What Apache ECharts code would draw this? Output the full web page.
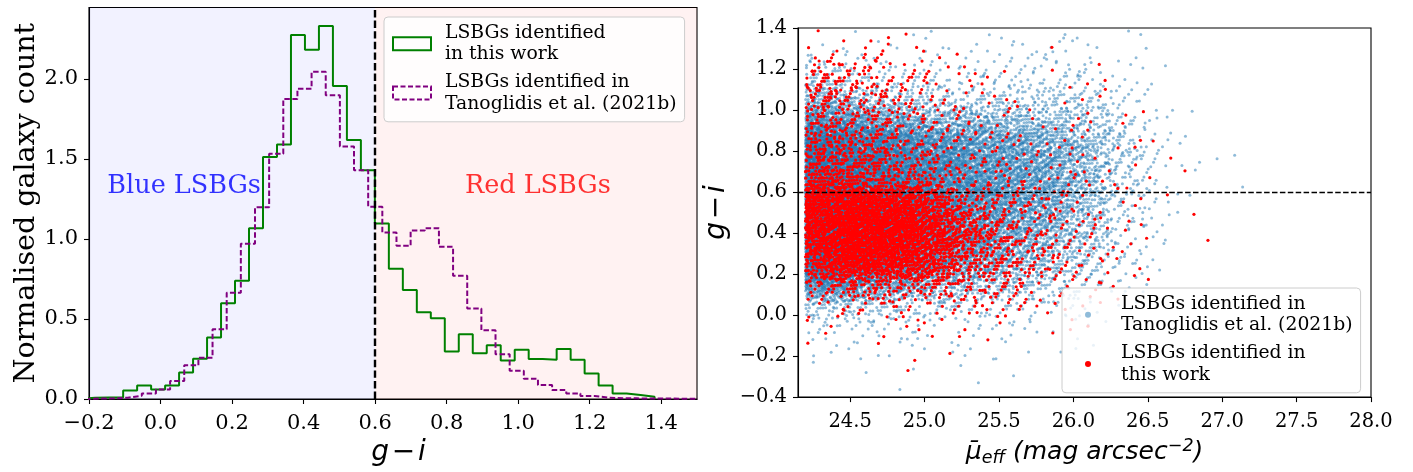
<!DOCTYPE html>
<html><head><meta charset="utf-8">
<script src="https://cdn.jsdelivr.net/npm/echarts@6/dist/echarts.min.js"></script>
<style>html,body{margin:0;padding:0;background:#fff}#c{width:1413px;height:472px}</style>
</head><body><div id="c"></div><script>
// ---------------- Left panel: normalised g - i histograms ----------------
const histXTicks = [-0.2, 0.0, 0.2, 0.4, 0.6, 0.8, 1.0, 1.2, 1.4];
const histYTicks = [0.0, 0.5, 1.0, 1.5, 2.0];
const colourCut = 0.6;
// "LSBGs identified in this work" (green, solid step)
const thisWorkBinStart = -0.2218;
const thisWorkBinWidth = 0.0391;
const thisWorkHeights = [0.008,0.010,0.010,0.053,0.084,0.059,0.084,0.165,0.251,0.384,0.598,0.739,1.066,1.511,1.589,2.274,2.181,2.330,1.954,1.618,1.428,1.096,0.813,0.681,0.541,0.505,0.297,0.404,0.285,0.336,0.241,0.307,0.250,0.245,0.313,0.245,0.159,0.084,0.035,0.025,0.014];
// "LSBGs identified in Tanoglidis et al. (2021b)" (purple, dashed step)
const tanoBinStart = -0.2106;
const tanoBinWidth = 0.03956;
const tanoHeights = [0.003,0.004,0.008,0.020,0.035,0.059,0.113,0.210,0.258,0.435,0.664,0.970,1.197,1.531,1.873,1.938,2.043,1.897,1.577,1.428,1.201,1.040,0.957,1.053,1.067,0.951,0.770,0.565,0.429,0.280,0.177,0.126,0.087,0.056,0.035,0.019,0.008,0.005,0.004,0.003,0.003,0.002,0.002,0.001];
const regionLabels = ['Blue LSBGs', 'Red LSBGs'];
const regionLabelPos = [[0.066, 1.33], [1.055, 1.33]];

// ---------------- Right panel: g - i vs mean effective surface brightness ----------------
const muTicks = [24.5, 25.0, 25.5, 26.0, 26.5, 27.0, 27.5, 28.0];
const giTicks = [-0.4, -0.2, 0.0, 0.2, 0.4, 0.6, 0.8, 1.0, 1.2, 1.4];
const muSampleCut = 24.2;   // no galaxy brighter than this in either sample
// The clouds are far too dense to read point by point; what is read from the picture
// is the number of points in each 0.2 mag x 0.1 mag cell (columns = mu cells, rows = g-i cells).
const muColLeft = [24.2,24.4,24.6,24.8,25.0,25.2,25.4,25.6,25.8,26.0,26.2,26.4,26.6,26.8,27.0];
const muCellWidth = 0.2;
const giRowBottom = [1.3,1.2,1.1,1.0,0.9,0.8,0.7,0.6,0.5,0.4,0.3,0.2,0.1,0.0,-0.1,-0.2,-0.3,-0.4];
const giCellHeight = 0.1;
const tanoCellCounts = [
 [1,2,2,2,1,2,3,3,4,4,2,1,0,0,0],
 [8,5,4,4,4,5,5,6,6,6,3,1,0,0,0],
 [40,25,18,13,11,11,11,12,12,10,6,2,0,0,0],
 [90,68,52,40,32,28,28,30,28,22,12,4,1,0,0],
 [220,180,150,120,95,85,75,72,62,44,20,6,1,0,0],
 [400,350,300,250,205,175,150,130,110,68,30,9,2,1,0],
 [430,390,340,290,245,210,180,150,120,72,34,10,2,1,1],
 [440,400,350,300,255,215,185,155,120,72,32,10,2,0,1],
 [440,410,360,310,255,210,180,145,110,64,27,8,2,0,0],
 [440,410,360,310,250,200,160,125,92,54,21,6,1,0,0],
 [430,400,350,290,230,175,135,100,70,40,16,5,1,0,0],
 [400,355,300,235,180,140,105,75,50,28,11,4,1,0,0],
 [230,195,150,115,90,70,55,40,27,16,7,2,0,0,0],
 [45,38,32,27,22,18,15,12,9,6,3,1,0,0,0],
 [11,10,9,8,7,6,5,4,3,2,1,0,0,0,0],
 [3,3,3,3,3,2,2,2,1,1,0,0,0,0,0],
 [1,1,2,1,1,1,1,1,1,0,0,0,0,0,0],
 [0,0,0,1,0,0,0,0,0,0,0,0,0,0,0]
];
const thisWorkCellCounts = [
 [1,2,2,1,1,1,0,0,0,0,0,0,0,0,0],
 [9,7,6,3,2,1,1,1,0,1,0,0,0,0,0],
 [24,22,15,9,6,3,2,1,1,1,1,0,0,0,0],
 [28,24,18,12,8,5,3,2,2,2,1,0,0,0,0],
 [30,26,19,14,9,7,5,3,2,2,1,1,0,0,0],
 [40,34,26,18,12,8,6,5,4,3,2,1,0,0,0],
 [52,46,36,24,15,10,8,6,5,4,2,1,1,0,0],
 [85,75,58,40,24,15,10,8,6,4,3,1,1,1,0],
 [150,165,150,125,75,36,20,13,8,5,3,1,0,0,0],
 [150,185,180,160,100,50,28,17,11,6,3,1,1,0,0],
 [125,180,180,160,105,58,32,20,12,6,3,1,0,0,1],
 [90,150,145,125,80,50,30,18,11,6,3,1,0,0,0],
 [25,35,38,35,30,22,15,10,7,4,2,1,0,0,0],
 [6,7,8,8,9,8,7,6,4,2,1,0,0,0,0],
 [2,2,3,3,3,3,2,2,1,1,0,0,0,0,0],
 [1,0,0,1,1,1,0,0,0,0,0,0,0,0,0],
 [0,0,0,0,0,0,0,0,0,0,0,0,0,0,0],
 [0,0,1,0,0,0,0,0,0,0,0,0,0,0,0]
];
const legendText = {
  histThisWork: 'LSBGs identified\nin this work',
  histTano: 'LSBGs identified in\nTanoglidis et al. (2021b)',
  scatTano: 'LSBGs identified in\nTanoglidis et al. (2021b)',
  scatThisWork: 'LSBGs identified in\nthis work'
};

// ---------------- builders ----------------
function stepOutline(start, width, heights) {
  const pts = [[start, 0]];
  heights.forEach((h, i) => pts.push([start + i * width, h]));
  const end = start + heights.length * width;
  pts.push([end, heights[heights.length - 1]]);
  pts.push([end, 0]);
  return pts;
}
// Spread each cell's count over the cell with a tent profile reaching into the neighbouring
// cells (so the read densities blend smoothly), in a fixed low-discrepancy order: no randomness.
function spreadCells(counts, offset) {
  const a = [0.8566748838545029, 0.7338918566271259, 0.6287067210378086, 0.5385972572236101];
  const fr = x => x - Math.floor(x);
  const pts = []; let k = offset;
  for (let r = 0; r < giRowBottom.length; r++) {
    for (let c = 0; c < muColLeft.length; c++) {
      for (let j = 0; j < counts[r][c]; j++) {
        k++;
        const u = fr(0.5 + a[0] * k) + fr(0.5 + a[1] * k) - 0.5;
        const v = fr(0.5 + a[2] * k) + fr(0.5 + a[3] * k) - 0.5;
        let x = muColLeft[c] + u * muCellWidth;
        if (x < muSampleCut) x = 2 * muSampleCut - x;
        pts.push([x, giRowBottom[r] + v * giCellHeight]);
      }
    }
  }
  return pts;
}
const fmt = v => (v < -1e-9 ? '\u2212' : '') + Math.abs(v).toFixed(1);
const SERIF = 'DejaVu Serif';
function axisCommon(ticks, fs, margin) {
  return {
    axisLine: { show: true, onZero: false, lineStyle: { color: '#000', width: 1.1 } },
    axisTick: { show: true, customValues: ticks, length: 5, lineStyle: { color: '#000', width: 1.1 } },
    axisLabel: { customValues: ticks, formatter: fmt, fontFamily: SERIF, fontSize: fs, color: '#000', margin: margin },
    splitLine: { show: false }
  };
}
const legendBase = {
  orient: 'vertical', itemGap: 6,
  backgroundColor: 'rgba(255,255,255,0.8)', borderColor: '#cccccc', borderWidth: 1, borderRadius: 4,
  selectedMode: false, formatter: n => legendText[n]
};
const legendTextStyle = { fontFamily: SERIF, fontSize: 18.8, color: '#000', lineHeight: 21.7 };
const GI = 'g\u200a\u2212\u200ai';

const chart = echarts.init(document.getElementById('c'), null, { renderer: 'canvas' });
chart.setOption({
  animation: false,
  grid: [
    { left: 89, top: 7.5, width: 608, height: 395, show: true, borderColor: '#000', borderWidth: 1.1, backgroundColor: 'transparent' },
    { left: 798, top: 28, width: 573, height: 372, show: true, borderColor: '#000', borderWidth: 1.1, backgroundColor: 'transparent' }
  ],
  xAxis: [
    Object.assign({ gridIndex: 0, type: 'value', min: -0.2, max: 1.5,
      name: GI, nameLocation: 'middle', nameGap: 40,
      nameTextStyle: { fontFamily: 'DejaVu Sans', fontStyle: 'italic', fontSize: 28, color: '#000', padding: [0, 0, 0, 11] } },
      axisCommon(histXTicks, 21, 14)),
    Object.assign({ gridIndex: 1, type: 'value', min: 24.15, max: 28.0,
      name: '{m|\u03bc\u0304}{sub|eff}{m| (mag arcsec}{sup|\u22122}{m|)}', nameLocation: 'middle', nameGap: 39,
      nameTextStyle: { fontFamily: 'DejaVu Sans', fontStyle: 'italic', fontSize: 25, color: '#000',
        rich: {
          m: { fontFamily: 'DejaVu Sans', fontStyle: 'italic', fontSize: 25, lineHeight: 30, color: '#000' },
          sub: { fontFamily: 'DejaVu Sans', fontStyle: 'italic', fontSize: 17.5, lineHeight: 17, verticalAlign: 'bottom', color: '#000' },
          sup: { fontFamily: 'DejaVu Sans', fontSize: 17.5, lineHeight: 17, verticalAlign: 'top', color: '#000' }
        } } }, axisCommon(muTicks, 19.5, 15))
  ],
  yAxis: [
    Object.assign({ gridIndex: 0, type: 'value', min: 0, max: 2.445,
      name: 'Normalised galaxy count', nameLocation: 'middle', nameGap: 47, nameRotate: 90,
      nameTextStyle: { fontFamily: SERIF, fontSize: 28.5, color: '#000' } }, axisCommon(histYTicks, 21, 11)),
    Object.assign({ gridIndex: 1, type: 'value', min: -0.4, max: 1.4,
      name: GI, nameLocation: 'middle', nameGap: 67, nameRotate: 90,
      nameTextStyle: { fontFamily: 'DejaVu Sans', fontStyle: 'italic', fontSize: 28, color: '#000' } },
      axisCommon(giTicks, 19.5, 11))
  ],
  legend: [
    Object.assign({}, legendBase, { left: 384, top: 17, icon: 'rect', itemWidth: 38, itemHeight: 13,
      padding: [5, 8, 7, 8], textStyle: Object.assign({ padding: [0, 0, 0, 9] }, legendTextStyle),
      data: [
        { name: 'histThisWork', itemStyle: { color: 'transparent', borderColor: '#008000', borderWidth: 2 } },
        { name: 'histTano', itemStyle: { color: 'transparent', borderColor: '#800080', borderWidth: 2, borderType: [5, 2.5] } }
      ] }),
    Object.assign({}, legendBase, { left: 1062, top: 288, icon: 'circle', itemWidth: 6, itemHeight: 6,
      padding: [5, 8, 7, 23], textStyle: Object.assign({ padding: [0, 0, 0, 25] }, legendTextStyle),
      data: [ { name: 'scatTano' }, { name: 'scatThisWork' } ] })
  ],
  series: [
    { type: 'line', name: 'shade', xAxisIndex: 0, yAxisIndex: 0, data: [], silent: true, z: 0,
      markArea: { silent: true, data: [
        [{ xAxis: -0.2, itemStyle: { color: 'rgba(0,0,255,0.05)' } }, { xAxis: colourCut }],
        [{ xAxis: colourCut, itemStyle: { color: 'rgba(255,0,0,0.05)' } }, { xAxis: 1.5 }]
      ] } },
    { type: 'line', name: 'histThisWork', xAxisIndex: 0, yAxisIndex: 0, step: 'end', showSymbol: false, silent: true,
      data: stepOutline(thisWorkBinStart, thisWorkBinWidth, thisWorkHeights), z: 2,
      lineStyle: { color: '#008000', width: 2 }, itemStyle: { color: '#008000' } },
    { type: 'line', name: 'histTano', xAxisIndex: 0, yAxisIndex: 0, step: 'end', showSymbol: false, silent: true,
      data: stepOutline(tanoBinStart, tanoBinWidth, tanoHeights), z: 2,
      lineStyle: { color: '#800080', width: 2, type: [5.5, 2.5] }, itemStyle: { color: '#800080' } },
    { type: 'line', name: 'cutLeft', xAxisIndex: 0, yAxisIndex: 0, data: [], silent: true, z: 5,
      markLine: { silent: true, symbol: 'none', label: { show: false },
        lineStyle: { color: '#000', width: 2.4, type: [7.4, 3.2] }, data: [{ xAxis: colourCut }] } },
    { type: 'scatter', name: 'labels', xAxisIndex: 0, yAxisIndex: 0, symbolSize: 0, silent: true, z: 6,
      data: regionLabels.map((t, i) => ({ value: regionLabelPos[i], name: t,
        label: { show: true, position: 'inside', formatter: t, fontFamily: SERIF, fontSize: 25.5, color: i === 0 ? '#0000ff' : '#ff0000' } })) },
    { type: 'scatter', name: 'scatTano', xAxisIndex: 1, yAxisIndex: 1, symbolSize: 3, silent: true,
      progressive: 0, large: false, z: 2,
      itemStyle: { color: '#1f77b4', opacity: 0.5 }, data: spreadCells(tanoCellCounts, 0) },
    { type: 'scatter', name: 'scatThisWork', xAxisIndex: 1, yAxisIndex: 1, symbolSize: 3.2, silent: true,
      progressive: 0, large: false, z: 3,
      itemStyle: { color: '#ff0000', opacity: 1 }, data: spreadCells(thisWorkCellCounts, 50000) },
    { type: 'line', name: 'cutRight', xAxisIndex: 1, yAxisIndex: 1, data: [], silent: true, z: 5,
      markLine: { silent: true, symbol: 'none', label: { show: false },
        lineStyle: { color: '#000', width: 1.4, type: [5.5, 2.4] }, data: [{ yAxis: colourCut }] } }
  ]
});
</script></body></html>
